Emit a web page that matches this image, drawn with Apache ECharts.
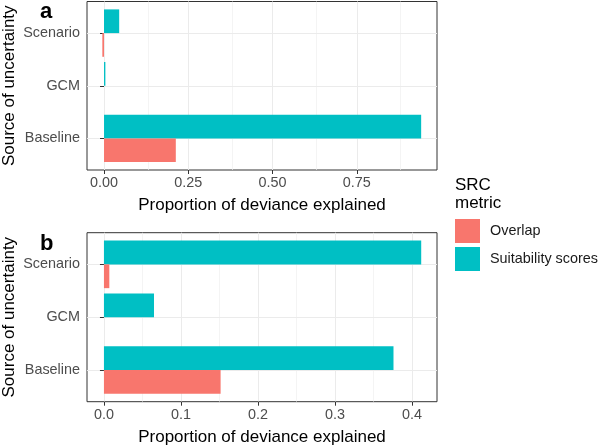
<!DOCTYPE html>
<html><head><meta charset="utf-8">
<script src="https://cdn.jsdelivr.net/npm/echarts@6/dist/echarts.min.js"></script>
<style>html,body{margin:0;padding:0;background:#fff}#c{width:600px;height:448px}</style>
</head><body><div id="c"></div>
<script>
const categories = ['Baseline', 'GCM', 'Scenario'];
const overlapA = [0.213, 0, -0.005];
const suitA = [0.941, 0.004, 0.045];
const overlapB = [0.1515, 0, 0.007];
const suitB = [0.376, 0.065, 0.412];
const ticksA = [0, 0.25, 0.5, 0.75];
const minorA = [0.125, 0.375, 0.625, 0.875];
const ticksB = [0, 0.1, 0.2, 0.3, 0.4];
const minorB = [0.05, 0.15, 0.25, 0.35];
const seriesNames = ['Overlap', 'Suitability scores'];
const colors = ['#F8766D', '#00BFC4'];

const FF = 'Liberation Sans, Arial, sans-serif';
const boxes = [
  {top: 1.5, height: 168.5, min: -0.0505, max: 0.988, ticks: ticksA, minor: minorA, dec: 2, ov: overlapA, su: suitA, letter: 'a'},
  {top: 232.7, height: 169, min: -0.022, max: 0.4325, ticks: ticksB, minor: minorB, dec: 1, ov: overlapB, su: suitB, letter: 'b'}
];
const LEFT = 87, WIDTH = 350;
const grid = [], xAxis = [], yAxis = [], series = [], graphic = [];
boxes.forEach((b, i) => {
  const inset = b.height / 3.2 * 0.1;
  grid.push({left: LEFT, width: WIDTH, top: b.top, height: b.height, show: true, borderColor: '#333', borderWidth: 1,
    backgroundColor: 'transparent', containLabel: false, outerBoundsMode: 'none'});
  grid.push({left: LEFT, width: WIDTH, top: b.top + inset, height: b.height - 2 * inset, containLabel: false, outerBoundsMode: 'none'});
  const ga = 2 * i, gb = 2 * i + 1;
  xAxis.push({
    type: 'value', gridIndex: ga, min: b.min, max: b.max,
    axisLine: {show: false}, splitLine: {show: false},
    axisTick: {show: true, length: 4, lineStyle: {color: '#333'}, customValues: b.ticks},
    axisLabel: {customValues: b.ticks, margin: 6, color: '#4D4D4D', fontSize: 14.4, fontFamily: FF,
      formatter: v => Number(v).toFixed(b.dec)},
    name: 'Proportion of deviance explained', nameLocation: 'middle', nameGap: 27, nameMoveOverlap: false,
    nameTextStyle: {fontSize: 17, color: '#000', fontFamily: FF}
  });
  xAxis.push({type: 'value', gridIndex: gb, min: b.min, max: b.max, show: false});
  yAxis.push({type: 'value', gridIndex: ga, min: 0.4, max: 3.6, show: false});
  yAxis.push({
    type: 'category', gridIndex: gb, data: categories,
    axisLine: {show: false}, splitLine: {show: false},
    axisTick: {show: true, alignWithLabel: true, length: 4, lineStyle: {color: '#333'}},
    axisLabel: {margin: 7, color: '#4D4D4D', fontSize: 14.4, fontFamily: FF},
    name: 'Source of uncertainty', nameLocation: 'middle', nameGap: 69, nameMoveOverlap: false,
    nameTextStyle: {fontSize: 17, color: '#000', fontFamily: FF}
  });
  const ml = [];
  b.minor.forEach(v => ml.push({xAxis: v, lineStyle: {color: '#EFEFEF', width: 0.7, type: 'solid'}}));
  b.ticks.forEach(v => ml.push({xAxis: v, lineStyle: {color: '#EBEBEB', width: 1, type: 'solid'}}));
  [1, 2, 3].forEach(v => ml.push({yAxis: v, lineStyle: {color: '#EBEBEB', width: 1, type: 'solid'}}));
  series.push({type: 'line', xAxisIndex: ga, yAxisIndex: ga, data: [], silent: true, z: 0,
    markLine: {silent: true, symbol: 'none', label: {show: false}, animation: false, z: 0, data: ml}});
  // first bar series is drawn on top in a horizontal layout
  series.push({name: seriesNames[1], type: 'bar', xAxisIndex: gb, yAxisIndex: gb, data: b.su, z: 5,
    itemStyle: {color: colors[1]}, barGap: '0%', barCategoryGap: '10%'});
  series.push({name: seriesNames[0], type: 'bar', xAxisIndex: gb, yAxisIndex: gb, data: b.ov, z: 5,
    itemStyle: {color: colors[0]}, barGap: '0%', barCategoryGap: '10%'});
  graphic.push({type: 'text', left: 40, top: b.top + (i === 0 ? -1 : 0), z: 10, style: {text: b.letter, font: 'bold 22px ' + FF, fill: '#000'}});
});
graphic.push({type: 'text', left: 455, top: 176, style: {text: 'SRC\nmetric', font: '17px ' + FF, fill: '#000', lineHeight: 18}});

const chart = echarts.init(document.getElementById('c'), null, {renderer: 'canvas'});
chart.setOption({
  animation: false,
  grid, xAxis, yAxis, series, graphic,
  legend: {
    data: seriesNames, orient: 'vertical', left: 455, top: 219, padding: 0, itemWidth: 25, itemHeight: 24, itemGap: 4,
    icon: 'rect', selectedMode: false,
    textStyle: {fontSize: 14.4, color: '#1a1a1a', fontFamily: FF, padding: [0, 0, 0, 5]}
  }
});
</script></body></html>
